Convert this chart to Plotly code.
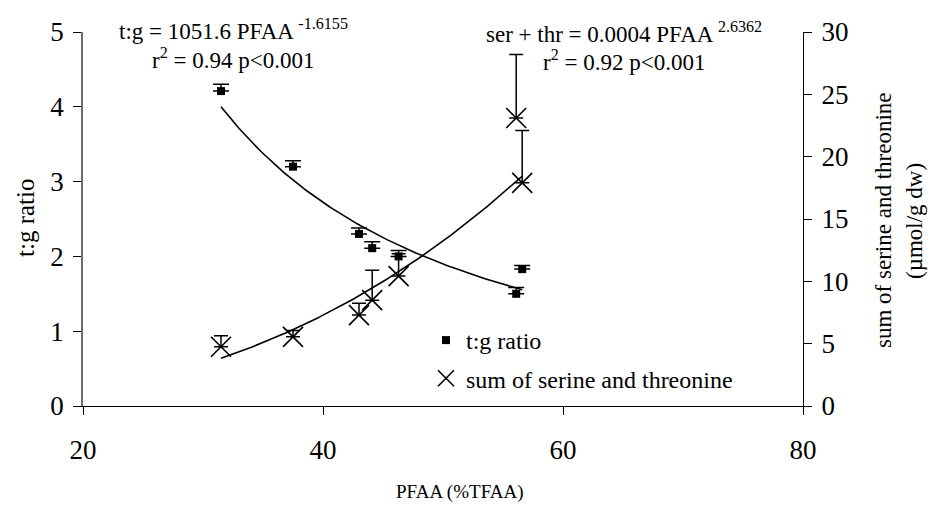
import numpy as np
import plotly.graph_objects as go

# ---- data ----
pfaa = [31.5, 37.5, 43.0, 44.1, 46.3, 56.6, 56.1]
tg_ratio = [4.21, 3.20, 2.30, 2.11, 2.00, 1.83, 1.50]
tg_err = [0.09, 0.08, 0.08, 0.085, 0.08, 0.05, 0.085]
ser_thr = [4.75, 5.55, 7.29, 8.49, 10.42, 17.9, 23.1]
ser_err = [0.88, 0.5, 0.95, 2.4, 1.8, 4.2, 5.1]

x_ticks = [20, 40, 60, 80]
eq_tg = ["t:g = 1051.6 PFAA <sup>-1.6155</sup>", "r<sup>2</sup> = 0.94 p&lt;0.001"]
eq_ser = ["ser + thr = 0.0004 PFAA <sup>2.6362</sup>", "r<sup>2</sup> = 0.92 p&lt;0.001"]

FONT = "Liberation Serif"

# power-law trendlines fitted to the data (as the spreadsheet trendline does)
def power_fit(x, y):
    b, lna = np.polyfit(np.log(x), np.log(y), 1)
    xs = np.linspace(min(x), max(x), 120)
    return xs, np.exp(lna) * xs ** b

xt, yt = power_fit(pfaa, tg_ratio)
xs, ys = power_fit(pfaa, ser_thr)

fig = go.Figure()

fig.add_trace(go.Scatter(x=xt, y=yt, mode="lines", line=dict(color="black", width=1.6),
                         showlegend=False, hoverinfo="skip"))
fig.add_trace(go.Scatter(x=xs, y=ys, mode="lines", line=dict(color="black", width=1.6),
                         showlegend=False, hoverinfo="skip", yaxis="y2"))

fig.add_trace(go.Scatter(
    x=pfaa, y=tg_ratio, mode="markers", name="t:g ratio",
    marker=dict(symbol="square", size=8, color="black"),
    error_y=dict(type="data", array=tg_err, arrayminus=[0] * len(tg_err), symmetric=False,
                 color="black", thickness=1.5, width=8),
    legendgroup="a",
))
fig.add_trace(go.Scatter(
    x=pfaa, y=ser_thr, mode="markers", name="sum of serine and threonine", yaxis="y2",
    marker=dict(symbol="x-thin", size=20, color="black", line=dict(width=1.6, color="black")),
    error_y=dict(type="data", array=ser_err, arrayminus=[0] * len(ser_err), symmetric=False,
                 color="black", thickness=1.5, width=7),
    legendgroup="b",
))

L, R, T, B = 83, 803, 32, 406
W, H = 931, 514

def px(xp):
    return (xp - L) / (R - L)

def py(yp):
    return (B - yp) / (B - T)

annotations = []
for txt, yy in zip(eq_tg, [30, 59]):
    annotations.append(dict(text=txt, x=px(233), y=py(yy), xref="paper", yref="paper",
                            showarrow=False, xanchor="center", yanchor="middle",
                            font=dict(family=FONT, size=23, color="black")))
for txt, yy in zip(eq_ser, [32, 61]):
    annotations.append(dict(text=txt, x=px(624), y=py(yy), xref="paper", yref="paper",
                            showarrow=False, xanchor="center", yanchor="middle",
                            font=dict(family=FONT, size=23, color="black")))
# axis titles
annotations.append(dict(text="PFAA (%TFAA)", x=px(460), y=py(492), xref="paper", yref="paper",
                        showarrow=False, xanchor="center", yanchor="middle",
                        font=dict(family=FONT, size=19, color="black")))
annotations.append(dict(text="t:g ratio", x=px(25), y=py(218), xref="paper", yref="paper",
                        showarrow=False, xanchor="center", yanchor="middle", textangle=-90,
                        font=dict(family=FONT, size=25, color="black")))
annotations.append(dict(text="sum of serine and threonine", x=px(883), y=py(221), xref="paper", yref="paper",
                        showarrow=False, xanchor="center", yanchor="middle", textangle=-90,
                        font=dict(family=FONT, size=23, color="black")))
annotations.append(dict(text="(µmol/g dw)", x=px(914), y=py(221), xref="paper", yref="paper",
                        showarrow=False, xanchor="center", yanchor="middle", textangle=-90,
                        font=dict(family=FONT, size=23, color="black")))

fig.update_layout(
    width=W, height=H,
    margin=dict(l=L, r=W - R, t=T, b=H - B, pad=0),
    paper_bgcolor="white", plot_bgcolor="white",
    font=dict(family=FONT, color="black"),
    xaxis=dict(range=[20, 80], tickvals=x_ticks, showgrid=False, zeroline=False,
               showline=True, linecolor="black", linewidth=1,
               ticks="outside", ticklen=8, tickcolor="black",
               tickfont=dict(family=FONT, size=27), ticklabelstandoff=12),
    yaxis=dict(range=[0, 5], dtick=1, showgrid=False, zeroline=False,
               showline=True, linecolor="#6e6e6e", linewidth=1.5,
               ticks="outside", ticklen=8, tickcolor="black",
               tickfont=dict(family=FONT, size=27), ticklabelstandoff=4),
    yaxis2=dict(range=[0, 30], dtick=5, overlaying="y", side="right", showgrid=False,
                zeroline=False, showline=True, linecolor="black", linewidth=1,
                ticks="outside", ticklen=8, tickcolor="black",
                tickfont=dict(family=FONT, size=27), ticklabelstandoff=4),
    legend=dict(x=px(426), y=py(318), xanchor="left", yanchor="top",
                font=dict(family=FONT, size=24), bgcolor="rgba(0,0,0,0)",
                traceorder="grouped", tracegroupgap=4),
    annotations=annotations,
    showlegend=True,
)

fig.write_html("out.html")
